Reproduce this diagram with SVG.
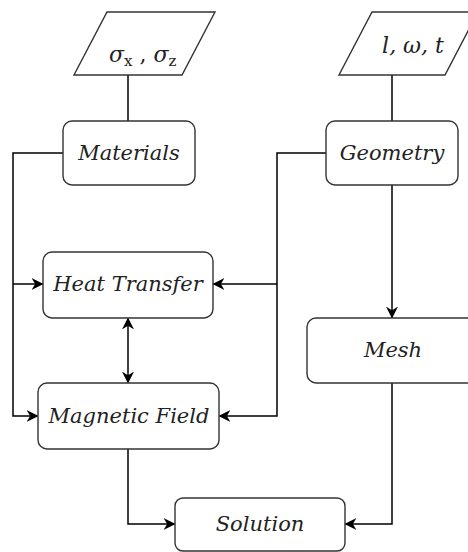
<svg xmlns="http://www.w3.org/2000/svg" width="468" height="552" viewBox="0 0 468 552">
<defs>
<marker id="arr" viewBox="0 0 10 10" refX="9.5" refY="5" markerWidth="12" markerHeight="12" markerUnits="userSpaceOnUse" orient="auto-start-reverse">
<path d="M0,0 L10,5 L0,10 L3,5 z" fill="#000"/>
</marker>
</defs>
<style>
.box{fill:#fff;stroke:#333;stroke-width:1.4}
.lbl{font-family:"DejaVu Serif","Liberation Serif",serif;font-style:italic;font-size:21px;fill:#222;text-anchor:middle}
.math{font-family:"DejaVu Serif","Liberation Serif",serif;font-size:22px;fill:#222}
.c{fill:none;stroke:#000;stroke-width:1.5}
.a{marker-end:url(#arr)}
</style>
<rect width="468" height="552" fill="#fff"/>
<g id="connectors">
<path class="c" d="M128,75 V121"/>
<path class="c" d="M392,75 V121"/>
<path class="c a" d="M63,153 H13 V416 H38"/>
<path class="c a" d="M13,284 H43"/>
<path class="c a" d="M326,153 H277 V416 H219"/>
<path class="c a" d="M277,284 H213"/>
<path class="c a" d="M392,185 V318"/>
<path class="c a" d="M128,318 V383" marker-start="url(#arr)"/>
<path class="c a" d="M128,449 V524 H175"/>
<path class="c a" d="M392,383 V524 H345"/>
</g>
<g id="input-sigma">
<polygon class="box" points="107,12 215,12 182,75 74,75"/>
<text class="math" x="109" y="62"><tspan font-style="italic">σ</tspan><tspan font-size="15" dy="4">x</tspan><tspan dy="-4"> , </tspan><tspan font-style="italic">σ</tspan><tspan font-size="15" dy="4">z</tspan></text>
</g>
<g id="input-geom">
<polygon class="box" points="372,12 478,12 445,75 339,75"/>
<text class="math" x="413" y="53" text-anchor="middle" font-style="italic">l, ω, t</text>
</g>
<g id="materials">
<rect class="box" x="63" y="121" width="132" height="64" rx="9"/>
<text class="lbl" x="129" y="160">Materials</text>
</g>
<g id="geometry">
<rect class="box" x="326" y="121" width="132" height="64" rx="9"/>
<text class="lbl" x="392" y="160">Geometry</text>
</g>
<g id="heat-transfer">
<rect class="box" x="43" y="252" width="170" height="66" rx="9"/>
<text class="lbl" x="128" y="291">Heat Transfer</text>
</g>
<g id="magnetic-field">
<rect class="box" x="38" y="383" width="181" height="66" rx="9"/>
<text class="lbl" x="129" y="423">Magnetic Field</text>
</g>
<g id="mesh">
<rect class="box" x="307" y="318" width="172" height="65" rx="9"/>
<text class="lbl" x="393" y="357">Mesh</text>
</g>
<g id="solution">
<rect class="box" x="175" y="498" width="170" height="53" rx="8"/>
<text class="lbl" x="260" y="531">Solution</text>
</g>
</svg>
